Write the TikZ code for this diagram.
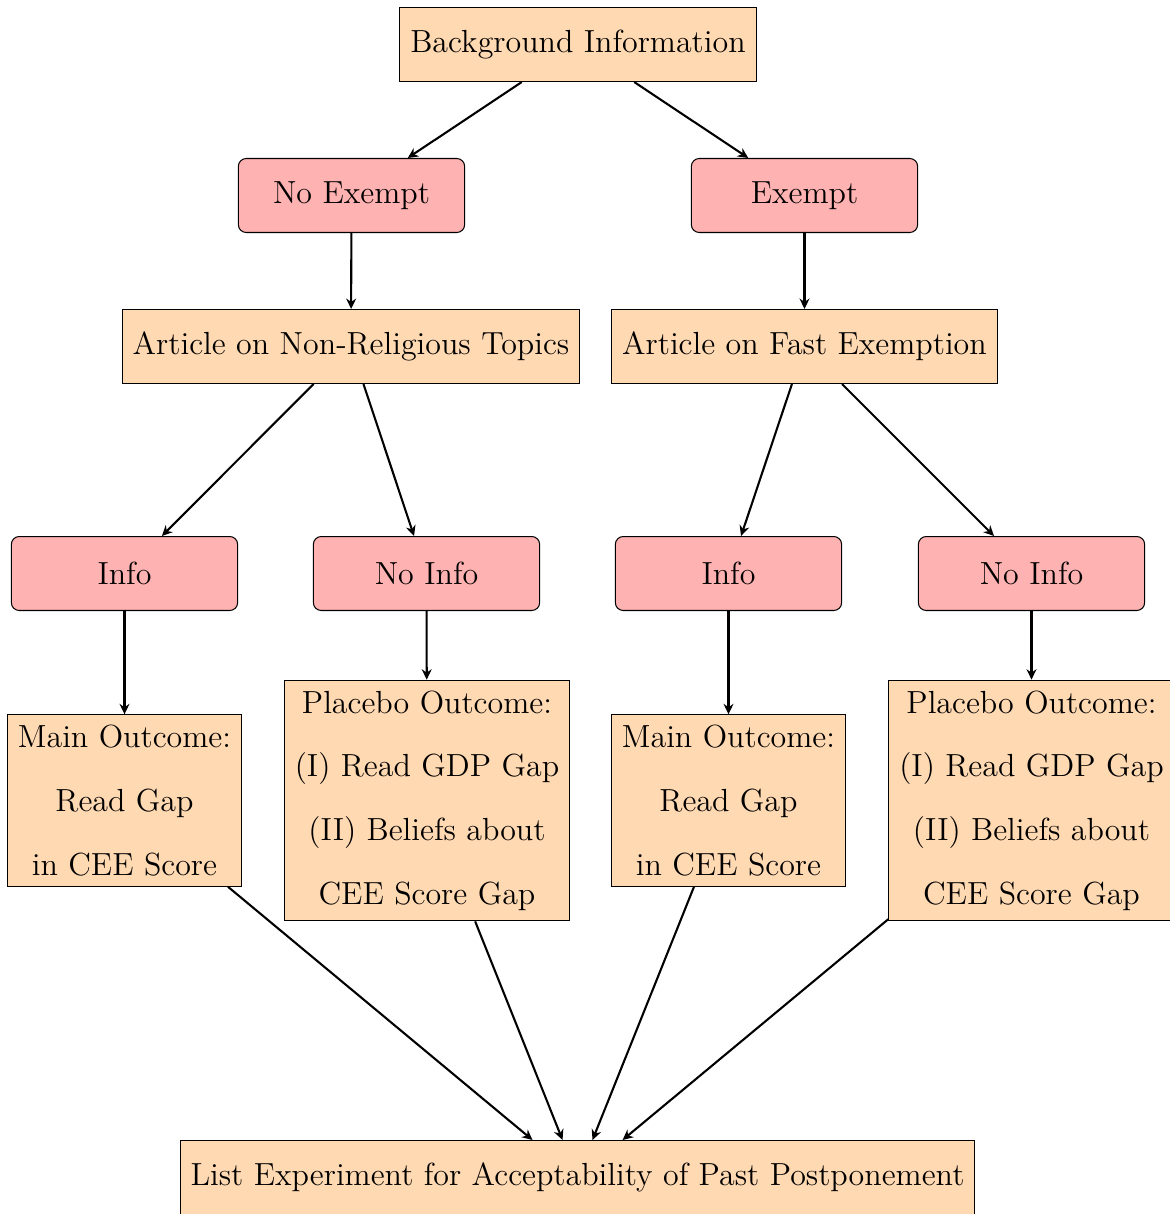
\documentclass[tikz,border=0pt]{standalone}
\usetikzlibrary{arrows.meta}
\begin{document}
\begin{tikzpicture}[x=0.3846pt,y=-0.3846pt,
  font=\fontsize{12.3}{14.9}\selectfont,
  sqbox/.style={draw, fill=orange!30, minimum height=1cm, inner xsep=4pt, inner ysep=4pt, align=center},
  rbox/.style={draw, fill=red!30, rounded corners=3pt, minimum height=1cm, minimum width=87pt},
  arr/.style={thick, -{Stealth[length=4pt,width=3.8pt]}}]
\useasboundingbox (0,0) rectangle (1170,1214);
\node[sqbox] (bg) at (578,44.5) {Background Information};
\node[rbox] (ne) at (351.5,195.5) {No Exempt};
\node[rbox] (ex) at (804.5,195.5) {Exempt};
\node[sqbox] (anr) at (351,346.5) {Article on Non-Religious Topics};
\node[sqbox] (afe) at (804.5,346.5) {Article on Fast Exemption};
\node[rbox] (i1) at (124.5,573.5) {Info};
\node[rbox] (n1) at (426.5,573.5) {No Info};
\node[rbox] (i2) at (728.5,573.5) {Info};
\node[rbox] (n2) at (1031.5,573.5) {No Info};
\node[sqbox] (m1) at (124.5,800.5) {Main Outcome:\\[9.6pt] Read Gap\\[9.6pt] in CEE Score};
\node[sqbox] (p1) at (427,800.5) {Placebo Outcome:\\[9.6pt] (I) Read GDP Gap\\[9.6pt] (II) Beliefs about\\[9.6pt] CEE Score Gap};
\node[sqbox] (m2) at (728.5,800.5) {Main Outcome:\\[9.6pt] Read Gap\\[9.6pt] in CEE Score};
\node[sqbox] (p2) at (1031.5,800.5) {Placebo Outcome:\\[9.6pt] (I) Read GDP Gap\\[9.6pt] (II) Beliefs about\\[9.6pt] CEE Score Gap};
\node[sqbox] (le) at (577.5,1177.5) {List Experiment for Acceptability of Past Postponement};
\draw[arr] (bg) -- (ne);
\draw[arr] (bg) -- (ex);
\draw[arr] (ne) -- (anr);
\draw[arr] (ex) -- (afe);
\draw[arr] (anr) -- (i1);
\draw[arr] (anr) -- (n1);
\draw[arr] (afe) -- (i2);
\draw[arr] (afe) -- (n2);
\draw[arr] (i1) -- (m1);
\draw[arr] (n1) -- (p1);
\draw[arr] (i2) -- (m2);
\draw[arr] (n2) -- (p2);
\draw[arr] (m1) -- (le);
\draw[arr] (p1) -- (le);
\draw[arr] (m2) -- (le);
\draw[arr] (p2) -- (le);
\end{tikzpicture}
\end{document}
